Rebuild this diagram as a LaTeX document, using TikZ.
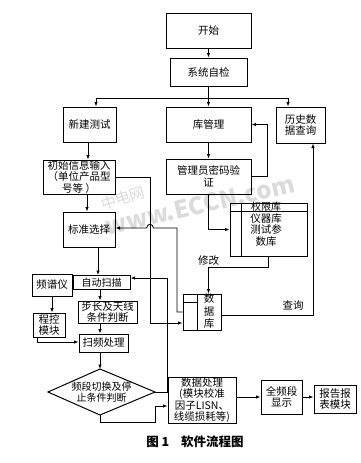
\documentclass[tikz,border=0pt]{standalone}
\usepackage{fontspec}
\setmainfont{Noto Sans CJK SC}
\usetikzlibrary{arrows.meta}
\begin{document}
\begin{tikzpicture}[x=1pt,y=-1pt,
  box/.style={draw, line width=1pt, inner sep=0pt, align=center, anchor=center,
    font=\fontsize{10.5}{11.5}\selectfont},
  lbl/.style={inner sep=0pt, align=center, font=\fontsize{10.5}{11.5}\selectfont},
  ln/.style={line width=0.85pt},
  arr/.style={line width=0.85pt, -{Latex[length=4.5pt,width=3.6pt]}},
  wm/.style={text=black!14, inner sep=0pt}]
\useasboundingbox (0,0) rectangle (360,463);
% watermark
\node[wm, rotate=17, font=\fontsize{15}{15}\selectfont] (wm1) at (123,198) {中电网};
\node[wm, rotate=13, font=\bfseries\fontsize{24}{24}\selectfont] (wm2) at (200,205) {www.ECCN.com};
% boxes
\node[box, minimum width=85pt, minimum height=35pt] (start) at (208.5,30.5) {开始};
\node[box, minimum width=77pt, minimum height=28pt] (selftest) at (208.5,72) {系统自检};
\node[box, minimum width=53pt, minimum height=35pt] (newtest) at (89.5,124.5) {新建测试};
\node[box, minimum width=85pt, minimum height=35pt] (libmgr) at (208.5,124.5) {库管理};
\node[box, minimum width=49pt, minimum height=36pt] (hist) at (300.5,125) {历史数\\据查询};
\node[box, minimum width=72pt, minimum height=34pt] (init) at (79,177) {初始信息输入\\（单位产品型\\号等 ）};
\node[box, minimum width=85pt, minimum height=35pt] (pwd) at (208.5,176.5) {管理员密码验\\证};
\node[box, minimum width=77pt, minimum height=53pt] (perm) at (268.5,229.5) {};
\draw[ln] (241,203) -- (241,256);
\draw[ln] (230,211) -- (307,211);
\node[lbl, font=\fontsize{10}{10}\selectfont] (permt) at (266,206.5) {权限库};
\node[lbl, font=\fontsize{10.5}{11.3}\selectfont] (permb) at (266,230) {仪器库\\测试参\\数库};
\node[box, minimum width=52pt, minimum height=35pt] (std) at (89,229.5) {标准选择};
\node[box, minimum width=40pt, minimum height=22pt] (spec) at (52,285) {频谱仪};
\node[box, minimum width=57pt, minimum height=14pt, font=\fontsize{10}{10}\selectfont] (auto) at (101.5,282.5) {自动扫描};
\node[box, minimum width=59pt, minimum height=22pt, font=\fontsize{10.5}{10.5}\selectfont] (step) at (107.5,312) {步长及天线\\条件判断};
\node[box, minimum width=32pt, minimum height=24pt, font=\fontsize{10.5}{11}\selectfont] (prog) at (49,325) {程控\\模块};
\node[box, minimum width=49pt, minimum height=18pt] (sweep) at (103.5,343) {扫频处理};
% diamond
\coordinate (dtop) at (100,369);
\coordinate (dbot) at (100,415);
\coordinate (dleft) at (48,392);
\coordinate (dright) at (155,392);
\draw[line width=1pt] (dtop) -- (dright) -- (dbot) -- (dleft) -- cycle;
\node[lbl, font=\fontsize{10}{11}\selectfont] (dia) at (101.5,392.5) {频段切换及停\\止条件判断};
\node[box, minimum width=68pt, minimum height=46pt] (proc) at (202,400) {数据处理\\(模块校准\\因子LISN、\\线缆损耗等)};
\node[box, minimum width=41pt, minimum height=34pt] (full) at (281.5,397) {全频段\\显示};
\node[box, minimum width=42pt, minimum height=28pt] (report) at (335,399) {报告报\\表模块};
% database
\node[box, minimum width=38pt, minimum height=36pt] (db) at (202,312) {};
\draw[ln] (197,294) -- (197,330);
\draw[ln] (183,302) -- (197,302);
\node[lbl, font=\fontsize{10.5}{12.5}\selectfont] (dbt) at (209,311.5) {数\\据\\库};
% caption
\node[inner sep=0pt, font=\bfseries\fontsize{12.5}{12.5}\selectfont] (cap) at (195,442) {图 1\hspace{12pt}软件流程图};
% helper coordinates
\coordinate (j) at (208.5,98);
\coordinate (jl) at (96,98);
\coordinate (jr) at (288,98);
\coordinate (x88) at (88,0);
\coordinate (x87) at (87,0);
\coordinate (x98) at (98,0);
\coordinate (x100) at (100,0);
\coordinate (x52) at (52,0);
% connectors
\draw[arr] (start) -- (selftest);
\draw[ln] (selftest.south) -- (j);
\draw[ln] (jl) -- (jr);
\draw[arr] (jl) -- (jl |- newtest.north);
\draw[arr] (j) -- (libmgr.north);
\draw[arr] (jr) -- (jr |- hist.north);
\draw[arr] (x88 |- newtest.south) -- (x88 |- init.north);
\draw[arr] (x87 |- init.south) -- (x87 |- std.north);
\draw[arr] (x98 |- std.south) -- (x98 |- auto.north);
\draw[arr] (x100 |- auto.south) -- (x100 |- step.north);
\draw[arr] (x100 |- step.south) -- (x100 |- sweep.north);
\draw[arr] (x100 |- sweep.south) -- (dtop);
\draw[arr] (x52 |- spec.south) -- (x52 |- prog.north);
\coordinate (g1) at (37,342);
\draw[arr] (g1 |- prog.south) -- (g1) -- (g1 -| sweep.west);
% diamond outputs
\coordinate (r1) at (167,278);
\draw[arr] (dright) -| (r1) -- (r1 -| auto.east);
\coordinate (b1) at (100,422);
\coordinate (b2) at (155,406);
\draw[arr] (dbot) -- (b1) -| (b2) -- (b2 -| proc.west);
\draw[arr] (full.west -| proc.east) -- (full.west);
\draw[arr] (full.east) -- (full.east -| report.west);
% library branch
\draw[arr] (libmgr) -- (pwd);
\coordinate (k1) at (267,124.5);
\draw[arr] (pwd.east) -| (k1) -- (libmgr.east);
\draw[arr] (pwd.south) |- (perm.west);
\coordinate (m1) at (268.5,267);
\coordinate (m2) at (208.5,267);
\draw[arr] (perm.south) -- (m1) -- (m2) -- (m2 |- db.north);
\node[lbl] (modify) at (208.5,261) {修改};
\coordinate (q1) at (313,315);
\draw[arr] (q1 -| db.east) -- (q1) -- (q1 |- hist.south);
\node[lbl] (query) at (293,305) {查询};
% cross links
\coordinate (p1) at (150,177);
\coordinate (p2) at (150,323);
\draw[arr] (init.east) -- (p1) -- (p2) -- (p2 -| db.west);
\coordinate (s1) at (177,312);
\coordinate (s2) at (177,228);
\draw[arr] (s1 -| db.west) -- (s1) -- (s2) -- (153.5,228) .. controls (152.5,223) and (147.5,223) .. (146.5,228) -- (s2 -| std.east);
\end{tikzpicture}
\end{document}
